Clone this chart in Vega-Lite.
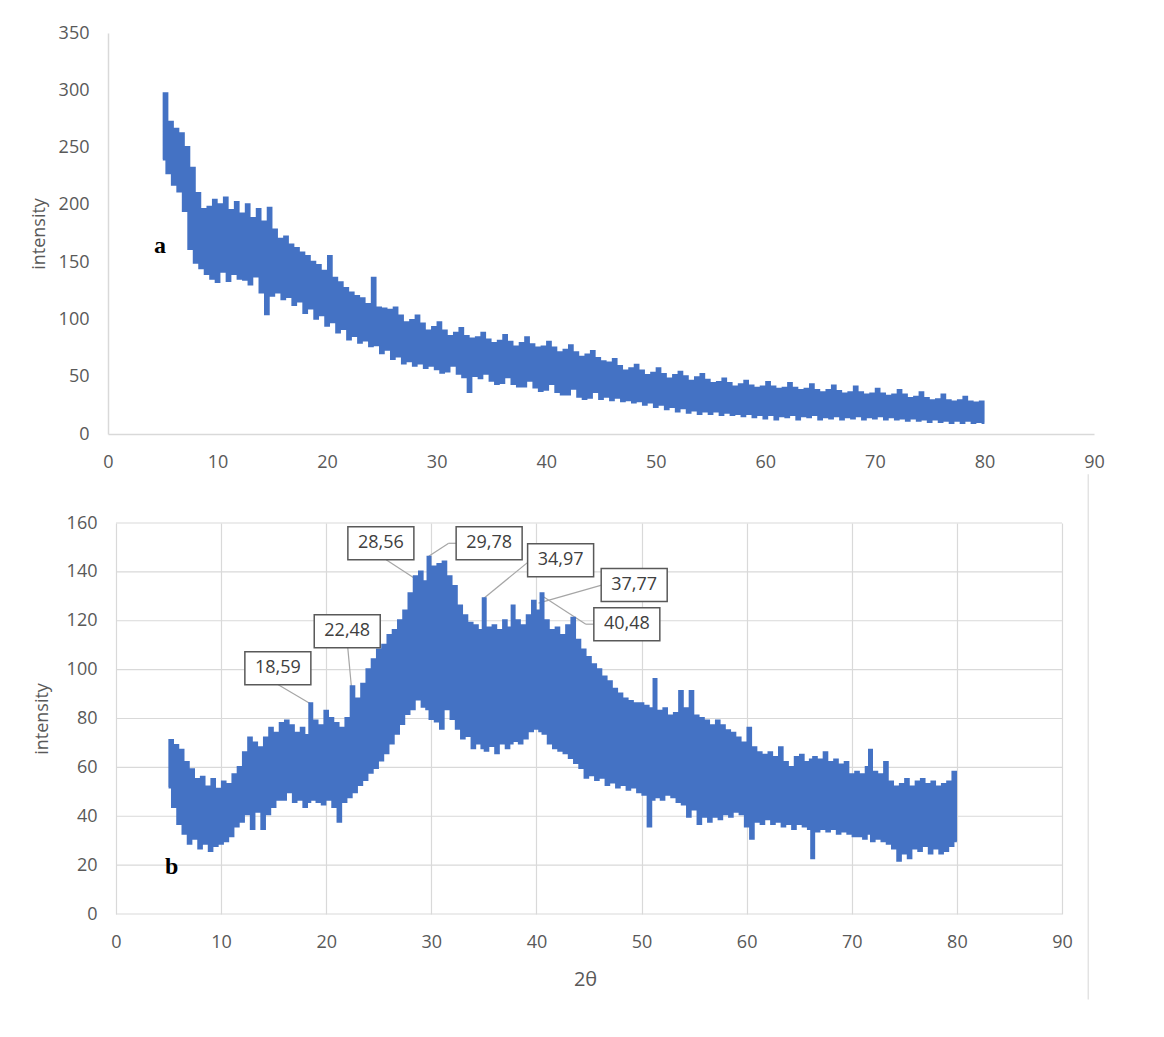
{
"$schema":"https://vega.github.io/schema/vega-lite/v6.json",
"background":"white",
"padding":{"left":30,"top":24,"right":5,"bottom":5},
"columns":1,
"spacing":2,
"config":{"view":{"stroke":null},"font":"Open Sans",
 "axis":{"labelFont":"Open Sans","labelFontSize":18,"labelColor":"#595959","labelFlush":false,"titleFont":"Open Sans","titleFontSize":18,"titleFontWeight":"normal","titleColor":"#595959","ticks":false,"domainColor":"#D9D9D9","domainWidth":1.5,"gridColor":"#D9D9D9","gridWidth":1.2,"labelPadding":19}},
"concat":[
{"width":986,"height":401,"layer":[
 {"data":{"values":[
{"t":5,"i":240},{"t":5.25,"i":297},{"t":5.5,"i":228},{"t":5.75,"i":272},{"t":6,"i":218},{"t":6.25,"i":266},{"t":6.5,"i":212},{"t":6.75,"i":262},{"t":7,"i":195},{"t":7.25,"i":250},{"t":7.5,"i":162},{"t":7.75,"i":232},{"t":8,"i":150},{"t":8.25,"i":210},{"t":8.5,"i":145},{"t":8.75,"i":196},{"t":9,"i":140},{"t":9.25,"i":198},{"t":9.5,"i":136},{"t":9.75,"i":204},
{"t":10,"i":133},{"t":10.25,"i":200},{"t":10.5,"i":142},{"t":10.75,"i":206},{"t":11,"i":134},{"t":11.25,"i":195},{"t":11.5,"i":140},{"t":11.75,"i":202},{"t":12,"i":136},{"t":12.25,"i":192},{"t":12.5,"i":135},{"t":12.75,"i":200},{"t":13,"i":131},{"t":13.25,"i":188},{"t":13.5,"i":138},{"t":13.75,"i":196},{"t":14,"i":124},{"t":14.25,"i":185},{"t":14.5,"i":105},{"t":14.75,"i":197},
{"t":15,"i":121},{"t":15.25,"i":178},{"t":15.5,"i":124},{"t":15.75,"i":170},{"t":16,"i":118},{"t":16.25,"i":172},{"t":16.5,"i":120},{"t":16.75,"i":165},{"t":17,"i":113},{"t":17.25,"i":162},{"t":17.5,"i":116},{"t":17.75,"i":158},{"t":18,"i":106},{"t":18.25,"i":155},{"t":18.5,"i":110},{"t":18.75,"i":150},{"t":19,"i":101},{"t":19.25,"i":147},{"t":19.5,"i":104},{"t":19.75,"i":142},
{"t":20,"i":95},{"t":20.25,"i":155},{"t":20.5,"i":98},{"t":20.75,"i":136},{"t":21,"i":89},{"t":21.25,"i":132},{"t":21.5,"i":92},{"t":21.75,"i":127},{"t":22,"i":83},{"t":22.25,"i":123},{"t":22.5,"i":86},{"t":22.75,"i":120},{"t":23,"i":80},{"t":23.25,"i":118},{"t":23.5,"i":82},{"t":23.75,"i":113},{"t":24,"i":77},{"t":24.25,"i":136},{"t":24.5,"i":78},{"t":24.75,"i":110},
{"t":25,"i":71},{"t":25.25,"i":109},{"t":25.5,"i":74},{"t":25.75,"i":108},{"t":26,"i":66},{"t":26.25,"i":110},{"t":26.5,"i":68},{"t":26.75,"i":103},{"t":27,"i":62},{"t":27.25,"i":97},{"t":27.5,"i":64},{"t":27.75,"i":99},{"t":28,"i":60},{"t":28.25,"i":103},{"t":28.5,"i":62},{"t":28.75,"i":96},{"t":29,"i":58},{"t":29.25,"i":90},{"t":29.5,"i":60},{"t":29.75,"i":93},
{"t":30,"i":57},{"t":30.25,"i":97},{"t":30.5,"i":54},{"t":30.75,"i":90},{"t":31,"i":55},{"t":31.25,"i":85},{"t":31.5,"i":60},{"t":31.75,"i":88},{"t":32,"i":53},{"t":32.25,"i":92},{"t":32.5,"i":50},{"t":32.75,"i":85},{"t":33,"i":37},{"t":33.25,"i":83},{"t":33.5,"i":51},{"t":33.75,"i":84},{"t":34,"i":49},{"t":34.25,"i":88},{"t":34.5,"i":53},{"t":34.75,"i":82},
{"t":35,"i":47},{"t":35.25,"i":79},{"t":35.5,"i":44},{"t":35.75,"i":81},{"t":36,"i":45},{"t":36.25,"i":86},{"t":36.5,"i":50},{"t":36.75,"i":80},{"t":37,"i":44},{"t":37.25,"i":76},{"t":37.5,"i":42},{"t":37.75,"i":79},{"t":38,"i":42},{"t":38.25,"i":84},{"t":38.5,"i":47},{"t":38.75,"i":78},{"t":39,"i":41},{"t":39.25,"i":75},{"t":39.5,"i":38},{"t":39.75,"i":76},
{"t":40,"i":39},{"t":40.25,"i":80},{"t":40.5,"i":44},{"t":40.75,"i":75},{"t":41,"i":37},{"t":41.25,"i":71},{"t":41.5,"i":35},{"t":41.75,"i":73},{"t":42,"i":35},{"t":42.25,"i":77},{"t":42.5,"i":40},{"t":42.75,"i":71},{"t":43,"i":33},{"t":43.25,"i":67},{"t":43.5,"i":31},{"t":43.75,"i":69},{"t":44,"i":32},{"t":44.25,"i":72},{"t":44.5,"i":37},{"t":44.75,"i":66},
{"t":45,"i":31},{"t":45.25,"i":63},{"t":45.5,"i":33},{"t":45.75,"i":62},{"t":46,"i":30},{"t":46.25,"i":65},{"t":46.5,"i":32},{"t":46.75,"i":59},{"t":47,"i":29},{"t":47.25,"i":55},{"t":47.5,"i":30},{"t":47.75,"i":57},{"t":48,"i":28},{"t":48.25,"i":60},{"t":48.5,"i":29},{"t":48.75,"i":55},{"t":49,"i":26},{"t":49.25,"i":51},{"t":49.5,"i":28},{"t":49.75,"i":53},
{"t":50,"i":24},{"t":50.25,"i":57},{"t":50.5,"i":26},{"t":50.75,"i":52},{"t":51,"i":22},{"t":51.25,"i":48},{"t":51.5,"i":24},{"t":51.75,"i":51},{"t":52,"i":20},{"t":52.25,"i":54},{"t":52.5,"i":23},{"t":52.75,"i":50},{"t":53,"i":19},{"t":53.25,"i":46},{"t":53.5,"i":21},{"t":53.75,"i":49},{"t":54,"i":18},{"t":54.25,"i":52},{"t":54.5,"i":20},{"t":54.75,"i":47},
{"t":55,"i":18},{"t":55.25,"i":44},{"t":55.5,"i":20},{"t":55.75,"i":45},{"t":56,"i":17},{"t":56.25,"i":48},{"t":56.5,"i":19},{"t":56.75,"i":44},{"t":57,"i":17},{"t":57.25,"i":41},{"t":57.5,"i":18},{"t":57.75,"i":43},{"t":58,"i":16},{"t":58.25,"i":46},{"t":58.5,"i":18},{"t":58.75,"i":42},{"t":59,"i":15},{"t":59.25,"i":40},{"t":59.5,"i":17},{"t":59.75,"i":41},
{"t":60,"i":14},{"t":60.25,"i":45},{"t":60.5,"i":17},{"t":60.75,"i":41},{"t":61,"i":13},{"t":61.25,"i":39},{"t":61.5,"i":16},{"t":61.75,"i":40},{"t":62,"i":15},{"t":62.25,"i":44},{"t":62.5,"i":17},{"t":62.75,"i":40},{"t":63,"i":13},{"t":63.25,"i":38},{"t":63.5,"i":16},{"t":63.75,"i":39},{"t":64,"i":15},{"t":64.25,"i":43},{"t":64.5,"i":17},{"t":64.75,"i":38},
{"t":65,"i":13},{"t":65.25,"i":36},{"t":65.5,"i":15},{"t":65.75,"i":38},{"t":66,"i":14},{"t":66.25,"i":42},{"t":66.5,"i":16},{"t":66.75,"i":37},{"t":67,"i":13},{"t":67.25,"i":35},{"t":67.5,"i":15},{"t":67.75,"i":36},{"t":68,"i":14},{"t":68.25,"i":41},{"t":68.5,"i":16},{"t":68.75,"i":36},{"t":69,"i":13},{"t":69.25,"i":34},{"t":69.5,"i":15},{"t":69.75,"i":35},
{"t":70,"i":14},{"t":70.25,"i":39},{"t":70.5,"i":16},{"t":70.75,"i":35},{"t":71,"i":13},{"t":71.25,"i":33},{"t":71.5,"i":15},{"t":71.75,"i":34},{"t":72,"i":13},{"t":72.25,"i":38},{"t":72.5,"i":14},{"t":72.75,"i":34},{"t":73,"i":12},{"t":73.25,"i":31},{"t":73.5,"i":14},{"t":73.75,"i":32},{"t":74,"i":12},{"t":74.25,"i":36},{"t":74.5,"i":13},{"t":74.75,"i":31},
{"t":75,"i":11},{"t":75.25,"i":29},{"t":75.5,"i":13},{"t":75.75,"i":30},{"t":76,"i":11},{"t":76.25,"i":34},{"t":76.5,"i":12},{"t":76.75,"i":29},{"t":77,"i":10},{"t":77.25,"i":28},{"t":77.5,"i":12},{"t":77.75,"i":29},{"t":78,"i":10},{"t":78.25,"i":32},{"t":78.5,"i":12},{"t":78.75,"i":28},{"t":79,"i":10},{"t":79.25,"i":27},{"t":79.5,"i":11},{"t":79.75,"i":28},
{"t":80,"i":10}
 ]},
 "mark":{"type":"line","color":"#4472C4","strokeWidth":3,"interpolate":"step"},
 "encoding":{
  "x":{"field":"t","type":"quantitative","scale":{"domain":[0,90],"nice":false},"axis":{"values":[0,10,20,30,40,50,60,70,80,90],"title":null,"grid":false}},
  "y":{"field":"i","type":"quantitative","scale":{"domain":[0,350],"nice":false},"axis":{"values":[0,50,100,150,200,250,300,350],"title":"intensity","grid":false,"titlePadding":10}}}},
 {"data":{"values":[{"t":4.74,"i":164,"txt":"a"}]},
  "mark":{"type":"text","font":"Liberation Serif","fontWeight":"bold","fontSize":24,"color":"#000000"},
  "encoding":{"x":{"field":"t","type":"quantitative"},"y":{"field":"i","type":"quantitative"},"text":{"field":"txt","type":"nominal"}}}
]},
{"width":954,"height":391,"layer":[
 {"data":{"values":[{"g":0},{"g":20},{"g":40},{"g":60},{"g":80},{"g":100},{"g":120},{"g":140},{"g":160}]},
  "mark":{"type":"rule","color":"#D9D9D9","strokeWidth":1.2},
  "encoding":{
   "x":{"datum":0,"type":"quantitative","scale":{"domain":[-0.76,90],"nice":false},"axis":{"values":[0,10,20,30,40,50,60,70,80,90],"title":"2θ","grid":true,"domain":false,"titleFontSize":20,"titlePadding":18}},
   "x2":{"datum":90},
   "y":{"field":"g","type":"quantitative","scale":{"domain":[0,160],"nice":false},"axis":{"values":[0,20,40,60,80,100,120,140,160],"title":"intensity","grid":false,"domain":false,"labelPadding":11,"titlePadding":15}}}},
 {"data":{"values":[{"t":92.5,"i":180,"i2":-35}]},
  "mark":{"type":"rule","color":"#E3E3E3","strokeWidth":1.5},
  "encoding":{"x":{"field":"t","type":"quantitative"},"y":{"field":"i","type":"quantitative"},"y2":{"field":"i2"}}},
 {"data":{"values":[
  {"t":15.4,"i":93.9,"t2":18.5,"i2":86},
  {"t":22.05,"i":109,"t2":22.4,"i2":92.8},
  {"t":25.7,"i":145,"t2":28.4,"i2":137.4},
  {"t":32.4,"i":151.7,"t2":31.65,"i2":151.7},
  {"t":31.65,"i":151.7,"t2":29.75,"i2":146.4},
  {"t":39.2,"i":144.0,"t2":35.0,"i2":129.2},
  {"t":46.2,"i":134.6,"t2":40.2,"i2":127.2},
  {"t":45.5,"i":118.6,"t2":44.7,"i2":118.6},
  {"t":44.7,"i":118.6,"t2":40.7,"i2":129.7}]},
  "mark":{"type":"rule","color":"#A6A6A6","strokeWidth":1.2},
  "encoding":{"x":{"field":"t","type":"quantitative"},"y":{"field":"i","type":"quantitative"},"x2":{"field":"t2"},"y2":{"field":"i2"}}},
 {"data":{"values":[
{"t":5,"i":52},{"t":5.25,"i":71},{"t":5.5,"i":44},{"t":5.75,"i":69},{"t":6,"i":37},{"t":6.25,"i":67},{"t":6.5,"i":33},{"t":6.75,"i":62},{"t":7,"i":29},{"t":7.25,"i":59},{"t":7.5,"i":31},{"t":7.75,"i":55},{"t":8,"i":27},{"t":8.25,"i":56},{"t":8.5,"i":29},{"t":8.75,"i":52},{"t":9,"i":26},{"t":9.25,"i":55},{"t":9.5,"i":28},{"t":9.75,"i":51},
{"t":10,"i":29},{"t":10.25,"i":54},{"t":10.5,"i":30},{"t":10.75,"i":53},{"t":11,"i":32},{"t":11.25,"i":57},{"t":11.5,"i":36},{"t":11.75,"i":60},{"t":12,"i":38},{"t":12.25,"i":66},{"t":12.5,"i":41},{"t":12.75,"i":72},{"t":13,"i":35},{"t":13.25,"i":70},{"t":13.5,"i":42},{"t":13.75,"i":68},{"t":14,"i":35},{"t":14.25,"i":72},{"t":14.5,"i":41},{"t":14.75,"i":76},
{"t":15,"i":44},{"t":15.25,"i":74},{"t":15.5,"i":47},{"t":15.75,"i":78},{"t":16,"i":47},{"t":16.25,"i":79},{"t":16.5,"i":50},{"t":16.75,"i":77},{"t":17,"i":46},{"t":17.25,"i":74},{"t":17.5,"i":47},{"t":17.75,"i":76},{"t":18,"i":44},{"t":18.25,"i":73},{"t":18.375,"i":46},{"t":18.5,"i":86},{"t":18.75,"i":47},{"t":19,"i":79},{"t":19.25,"i":46},{"t":19.5,"i":77},{"t":19.75,"i":45},
{"t":20,"i":83},{"t":20.25,"i":47},{"t":20.5,"i":80},{"t":20.75,"i":44},{"t":21,"i":78},{"t":21.25,"i":38},{"t":21.5,"i":76},{"t":21.75,"i":46},{"t":22,"i":80},{"t":22.25,"i":48},{"t":22.5,"i":93},{"t":22.75,"i":50},{"t":23,"i":88},{"t":23.25,"i":53},{"t":23.5,"i":94},{"t":23.75,"i":55},{"t":24,"i":100},{"t":24.25,"i":58},{"t":24.5,"i":104},{"t":24.75,"i":60},
{"t":25,"i":108},{"t":25.25,"i":63},{"t":25.5,"i":110},{"t":25.75,"i":66},{"t":26,"i":114},{"t":26.25,"i":70},{"t":26.5,"i":116},{"t":26.75,"i":74},{"t":27,"i":120},{"t":27.25,"i":78},{"t":27.5,"i":124},{"t":27.75,"i":82},{"t":28,"i":131},{"t":28.25,"i":84},{"t":28.5,"i":138},{"t":28.75,"i":88},{"t":29,"i":140},{"t":29.25,"i":85},{"t":29.5,"i":136},{"t":29.625,"i":84},{"t":29.75,"i":146},
{"t":30,"i":80},{"t":30.25,"i":142},{"t":30.5,"i":79},{"t":30.75,"i":143},{"t":31,"i":76},{"t":31.25,"i":144},{"t":31.5,"i":84},{"t":31.75,"i":138},{"t":32,"i":80},{"t":32.25,"i":134},{"t":32.5,"i":76},{"t":32.75,"i":126},{"t":33,"i":72},{"t":33.25,"i":122},{"t":33.5,"i":73},{"t":33.75,"i":119},{"t":34,"i":68},{"t":34.25,"i":118},{"t":34.5,"i":70},{"t":34.75,"i":116},{"t":34.875,"i":68},
{"t":35,"i":129},{"t":35.25,"i":67},{"t":35.5,"i":117},{"t":35.75,"i":69},{"t":36,"i":118},{"t":36.25,"i":66},{"t":36.5,"i":116},{"t":36.75,"i":70},{"t":37,"i":120},{"t":37.25,"i":68},{"t":37.5,"i":117},{"t":37.625,"i":70},{"t":37.75,"i":126},{"t":38,"i":71},{"t":38.25,"i":120},{"t":38.5,"i":70},{"t":38.75,"i":118},{"t":39,"i":72},{"t":39.25,"i":122},{"t":39.5,"i":75},{"t":39.75,"i":128},
{"t":40,"i":76},{"t":40.25,"i":124},{"t":40.375,"i":75},{"t":40.5,"i":131},{"t":40.75,"i":74},{"t":41,"i":120},{"t":41.25,"i":70},{"t":41.5,"i":116},{"t":41.75,"i":68},{"t":42,"i":117},{"t":42.25,"i":67},{"t":42.5,"i":114},{"t":42.75,"i":66},{"t":43,"i":118},{"t":43.25,"i":64},{"t":43.5,"i":121},{"t":43.75,"i":62},{"t":44,"i":112},{"t":44.25,"i":60},{"t":44.5,"i":108},{"t":44.75,"i":56},
{"t":45,"i":105},{"t":45.25,"i":57},{"t":45.5,"i":102},{"t":45.75,"i":55},{"t":46,"i":100},{"t":46.25,"i":56},{"t":46.5,"i":97},{"t":46.75,"i":53},{"t":47,"i":95},{"t":47.25,"i":54},{"t":47.5,"i":92},{"t":47.75,"i":52},{"t":48,"i":90},{"t":48.25,"i":53},{"t":48.5,"i":88},{"t":48.75,"i":51},{"t":49,"i":87},{"t":49.25,"i":52},{"t":49.5,"i":86},{"t":49.75,"i":50},
{"t":50,"i":86},{"t":50.25,"i":49},{"t":50.5,"i":85},{"t":50.75,"i":36},{"t":51,"i":84},{"t":51.125,"i":47},{"t":51.25,"i":96},{"t":51.5,"i":48},{"t":51.75,"i":83},{"t":52,"i":47},{"t":52.25,"i":84},{"t":52.5,"i":49},{"t":52.75,"i":81},{"t":53,"i":48},{"t":53.25,"i":82},{"t":53.5,"i":46},{"t":53.75,"i":91},{"t":54,"i":45},{"t":54.25,"i":84},{"t":54.5,"i":40},{"t":54.75,"i":91},
{"t":55,"i":43},{"t":55.25,"i":81},{"t":55.5,"i":37},{"t":55.75,"i":80},{"t":56,"i":40},{"t":56.25,"i":79},{"t":56.5,"i":38},{"t":56.75,"i":77},{"t":57,"i":40},{"t":57.25,"i":79},{"t":57.5,"i":39},{"t":57.75,"i":77},{"t":58,"i":41},{"t":58.25,"i":75},{"t":58.5,"i":40},{"t":58.75,"i":74},{"t":59,"i":42},{"t":59.25,"i":72},{"t":59.5,"i":41},{"t":59.75,"i":70},
{"t":60,"i":36},{"t":60.25,"i":76},{"t":60.5,"i":31},{"t":60.75,"i":68},{"t":61,"i":38},{"t":61.25,"i":66},{"t":61.5,"i":37},{"t":61.75,"i":65},{"t":62,"i":39},{"t":62.25,"i":66},{"t":62.5,"i":37},{"t":62.75,"i":64},{"t":63,"i":38},{"t":63.25,"i":68},{"t":63.5,"i":36},{"t":63.75,"i":62},{"t":64,"i":37},{"t":64.25,"i":60},{"t":64.5,"i":35},{"t":64.75,"i":64},
{"t":65,"i":37},{"t":65.25,"i":65},{"t":65.5,"i":36},{"t":65.75,"i":62},{"t":66,"i":35},{"t":66.125,"i":63},{"t":66.25,"i":23},{"t":66.5,"i":64},{"t":66.75,"i":34},{"t":67,"i":63},{"t":67.25,"i":35},{"t":67.5,"i":66},{"t":67.75,"i":34},{"t":68,"i":62},{"t":68.25,"i":35},{"t":68.5,"i":63},{"t":68.75,"i":33},{"t":69,"i":61},{"t":69.25,"i":34},{"t":69.5,"i":62},{"t":69.75,"i":33},
{"t":70,"i":57},{"t":70.25,"i":32},{"t":70.5,"i":58},{"t":70.75,"i":32},{"t":71,"i":57},{"t":71.25,"i":31},{"t":71.5,"i":60},{"t":71.625,"i":33},{"t":71.75,"i":67},{"t":72,"i":30},{"t":72.25,"i":58},{"t":72.5,"i":31},{"t":72.75,"i":57},{"t":73,"i":30},{"t":73.25,"i":62},{"t":73.5,"i":29},{"t":73.75,"i":54},{"t":74,"i":27},{"t":74.25,"i":52},{"t":74.5,"i":22},{"t":74.75,"i":53},
{"t":75,"i":25},{"t":75.25,"i":55},{"t":75.5,"i":23},{"t":75.75,"i":52},{"t":76,"i":27},{"t":76.25,"i":54},{"t":76.5,"i":26},{"t":76.75,"i":55},{"t":77,"i":28},{"t":77.25,"i":53},{"t":77.5,"i":25},{"t":77.75,"i":54},{"t":78,"i":27},{"t":78.25,"i":52},{"t":78.5,"i":25},{"t":78.75,"i":53},{"t":79,"i":26},{"t":79.25,"i":54},{"t":79.5,"i":28},{"t":79.75,"i":58},
{"t":80,"i":30}
 ]},
 "mark":{"type":"line","color":"#4472C4","strokeWidth":3,"interpolate":"step"},
 "encoding":{"x":{"field":"t","type":"quantitative"},"y":{"field":"i","type":"quantitative"}}},
 {"data":{"values":[
  {"t":15.4,"i":100.6,"txt":"18,59"},
  {"t":22.0,"i":115.7,"txt":"22,48"},
  {"t":25.2,"i":151.7,"txt":"28,56"},
  {"t":35.5,"i":151.7,"txt":"29,78"},
  {"t":42.3,"i":144.8,"txt":"34,97"},
  {"t":49.3,"i":134.6,"txt":"37,77"},
  {"t":48.6,"i":118.6,"txt":"40,48"}]},
  "layer":[
   {"mark":{"type":"point","shape":"M-1,-0.5H1V0.5H-1Z","size":4356,"filled":true,"fill":"#FFFFFF","fillOpacity":1,"opacity":1,"stroke":"#595959","strokeWidth":1.5},
    "encoding":{"x":{"field":"t","type":"quantitative"},"y":{"field":"i","type":"quantitative"}}},
   {"mark":{"type":"text","font":"Open Sans","fontSize":18,"color":"#404040"},
    "encoding":{"x":{"field":"t","type":"quantitative"},"y":{"field":"i","type":"quantitative"},"text":{"field":"txt","type":"nominal"}}}
  ]},
 {"data":{"values":[{"t":5.3,"i":19.2,"txt":"b"}]},
  "mark":{"type":"text","font":"Liberation Serif","fontWeight":"bold","fontSize":24,"color":"#000000"},
  "encoding":{"x":{"field":"t","type":"quantitative"},"y":{"field":"i","type":"quantitative"},"text":{"field":"txt","type":"nominal"}}}
]}
]
}
